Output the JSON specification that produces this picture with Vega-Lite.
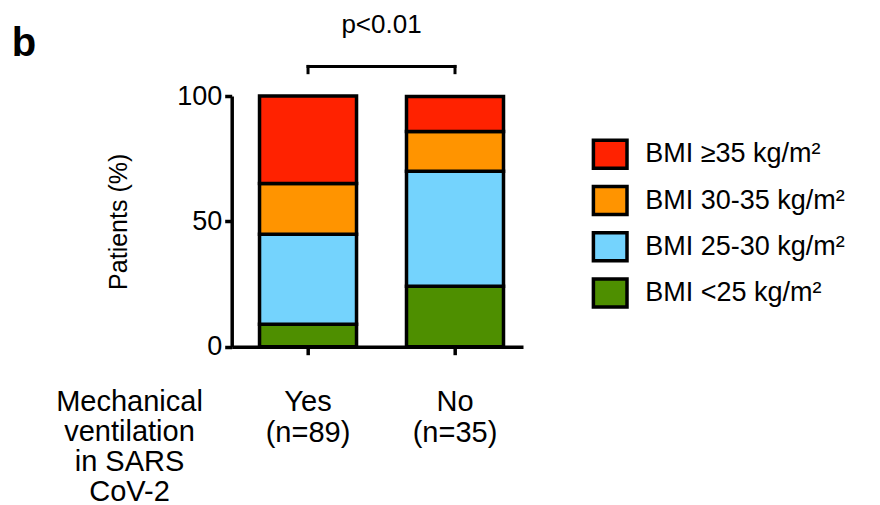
{
  "$schema": "https://vega.github.io/schema/vega-lite/v6.json",
  "autosize": "none",
  "width": 291.3,
  "height": 250.7,
  "padding": {"left": 231.7, "top": 96, "right": 357, "bottom": 158.3},
  "background": "white",
  "title": {"text": "b", "anchor": "start", "frame": "group", "fontSize": 40, "fontWeight": "bold", "font": "Liberation Sans", "color": "black", "dx": -220, "dy": 84, "baseline": "alphabetic", "offset": 0},
  "config": {"font": "Liberation Sans", "view": {"stroke": null}},
  "datasets": {
    "bmi": [
      {"grp": "Yes\n(n=89)", "bmi": "BMI <25 kg/m²", "ord": 1, "pct": 9.0},
      {"grp": "Yes\n(n=89)", "bmi": "BMI 25-30 kg/m²", "ord": 2, "pct": 35.9},
      {"grp": "Yes\n(n=89)", "bmi": "BMI 30-35 kg/m²", "ord": 3, "pct": 20.2},
      {"grp": "Yes\n(n=89)", "bmi": "BMI ≥35 kg/m²", "ord": 4, "pct": 34.9},
      {"grp": "No\n(n=35)", "bmi": "BMI <25 kg/m²", "ord": 1, "pct": 24.1},
      {"grp": "No\n(n=35)", "bmi": "BMI 25-30 kg/m²", "ord": 2, "pct": 45.9},
      {"grp": "No\n(n=35)", "bmi": "BMI 30-35 kg/m²", "ord": 3, "pct": 15.8},
      {"grp": "No\n(n=35)", "bmi": "BMI ≥35 kg/m²", "ord": 4, "pct": 14.0}
    ],
    "bracket": [{"grp": "Yes\n(n=89)", "grp2": "No\n(n=35)", "pct": 111.8}],
    "ends": [
      {"grp": "Yes\n(n=89)", "pct": 109.3, "pct2": 111.8},
      {"grp": "No\n(n=35)", "pct": 109.3, "pct2": 111.8}
    ],
    "ptext": [{"grp": "Yes\n(n=89)", "pct": 125, "label": "p<0.01"}]
  },
  "encoding": {
    "x": {
      "field": "grp", "type": "nominal",
      "scale": {"domain": ["Yes\n(n=89)", "No\n(n=35)"], "paddingInner": 0.34, "paddingOuter": 0.161, "align": 0.588},
      "axis": {
        "title": ["Mechanical", "ventilation", "in SARS", "CoV-2"],
        "titleFontSize": 29, "titleFontWeight": "normal", "titleColor": "black",
        "titleX": -102.7, "titleY": 63.3, "titleAlign": "center", "titleBaseline": "alphabetic", "titleLineHeight": 30,
        "labelExpr": "split(datum.value, '\\n')",
        "labelFontSize": 29, "labelColor": "black", "labelLineHeight": 31, "labelBaseline": "alphabetic", "labelPadding": 55.3, "labelAngle": 0,
        "domainColor": "black", "domainWidth": 3.5, "tickColor": "black", "tickWidth": 3.5, "tickSize": 8, "grid": false
      }
    },
    "y": {
      "field": "pct", "type": "quantitative",
      "scale": {"domain": [0, 100], "nice": false},
      "axis": {
        "title": "Patients (%)", "titleFontSize": 25, "titleFontWeight": "normal", "titleColor": "black",
        "titleX": -105, "titleY": 125.3, "titleBaseline": "alphabetic", "titleAlign": "center", "titleAngle": -90,
        "values": [0, 50, 100], "labelFontSize": 27, "labelColor": "black", "labelPadding": 3, "labelFlush": false,
        "domainColor": "black", "domainWidth": 3.5, "tickColor": "black", "tickWidth": 3.5, "tickSize": 7, "grid": false
      }
    }
  },
  "layer": [
    {
      "data": {"name": "bmi"},
      "mark": {"type": "bar", "stroke": "black", "strokeWidth": 3.5},
      "encoding": {
        "color": {
          "field": "bmi", "type": "nominal",
          "scale": {"domain": ["BMI ≥35 kg/m²", "BMI 30-35 kg/m²", "BMI 25-30 kg/m²", "BMI <25 kg/m²"], "range": ["#FF2200", "#FF9400", "#74D3FD", "#4E8F00"]},
          "legend": {
            "orient": "none", "legendX": 362.5, "legendY": 42.2, "title": null,
            "symbolType": "M-1.2,-1H1.2V1H-1.2Z", "symbolSize": 784, "symbolStrokeColor": "black", "symbolStrokeWidth": 3.5, "symbolOpacity": 1,
            "labelFontSize": 27, "labelColor": "black", "labelOffset": 19, "labelLimit": 0, "rowPadding": 4.3, "padding": 0,
            "encode": {"symbols": {"update": {"stroke": {"value": "black"}, "strokeWidth": {"value": 3.5}, "opacity": {"value": 1}}}}
          }
        },
        "order": {"field": "ord", "type": "quantitative"}
      }
    },
    {
      "data": {"name": "bracket"},
      "mark": {"type": "rule", "stroke": "black", "strokeWidth": 3, "strokeCap": "square"},
      "encoding": {"x2": {"field": "grp2"}}
    },
    {
      "data": {"name": "ends"},
      "mark": {"type": "rule", "stroke": "black", "strokeWidth": 3, "strokeCap": "square"},
      "encoding": {"y2": {"field": "pct2"}}
    },
    {
      "data": {"name": "ptext"},
      "mark": {"type": "text", "fontSize": 26, "color": "black", "align": "center", "baseline": "alphabetic", "dx": 73.5},
      "encoding": {"text": {"field": "label"}}
    }
  ]
}
